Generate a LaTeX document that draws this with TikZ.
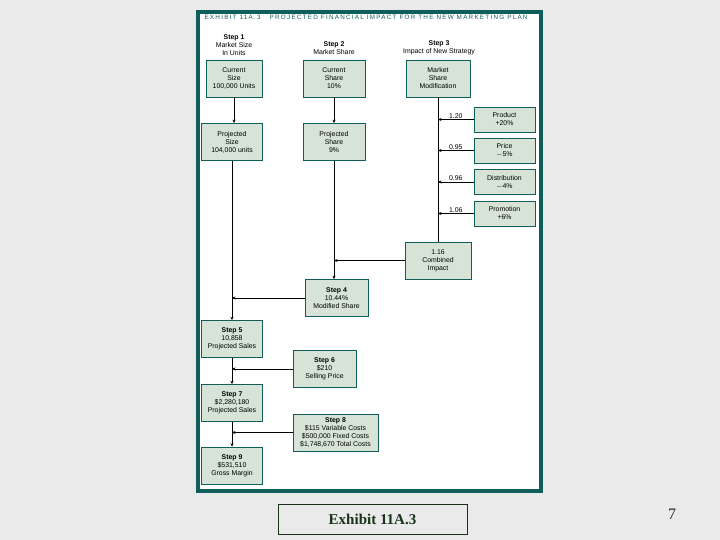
\documentclass[tikz,border=0pt]{standalone}
\usepackage{fontspec}
\setmainfont{Liberation Serif}
\setsansfont{Liberation Sans}
\newfontfamily\titlefont[LetterSpace=20]{Liberation Sans}
\usetikzlibrary{arrows.meta}

\definecolor{panelteal}{RGB}{16,94,90}
\definecolor{boxfill}{RGB}{214,227,214}
\definecolor{marble}{RGB}{234,234,234}
\definecolor{footgreen}{RGB}{24,52,24}

\tikzset{
  box/.style={draw=panelteal,line width=.7pt,fill=boxfill,align=center,inner sep=1pt,
    minimum height=37pt,font=\sffamily\fontsize{6.9}{8}\selectfont},
  factor/.style={box,minimum width=61pt,minimum height=25pt},
  head/.style={align=center,font=\sffamily\fontsize{6.9}{8}\selectfont},
  flow/.style={line width=.7pt,-{Stealth[length=3.5pt,width=3pt]}},
  link/.style={line width=.7pt},
  val/.style={font=\sffamily\fontsize{6.9}{7}\selectfont,above,inner sep=1pt}
}

\begin{document}
\begin{tikzpicture}[x=1pt,y=-1pt]
\useasboundingbox (0,0) rectangle (720,540);
\fill[marble] (0,0) rectangle (720,540);
\draw[panelteal,line width=4pt,fill=white] (198,12) rectangle (541,491);
\node[anchor=west,text=panelteal,font=\titlefont\fontsize{6.3}{7}\selectfont] (title) at (201,17.5)
  {EXHIBIT 11A.3 \ \ PROJECTED FINANCIAL IMPACT FOR THE NEW MARKETING PLAN};

% column headings
\node[head] (h1) at (234,45) {\textbf{Step 1}\\Market Size\\In Units};
\node[head] (h2) at (334,48) {\textbf{Step 2}\\Market Share};
\node[head] (h3) at (439,48) {\textbf{Step 3}\\Impact of New Strategy};

% boxes
\node[box,minimum width=56pt] (csize) at (234,78.5) {Current\\Size\\100,000 Units};
\node[box,minimum width=62pt] (cshare) at (334,78.5) {Current\\Share\\10\%};
\node[box,minimum width=64pt] (mod) at (438,78.5) {Market\\Share\\Modification};
\node[box,minimum width=61pt] (psize) at (232,142) {Projected\\Size\\104,000 units};
\node[box,minimum width=62pt] (pshare) at (334,142) {Projected\\Share\\9\%};

\node[factor] (product) at (504.5,119.5) {Product\\+20\%};
\node[factor] (price) at (504.5,150.5) {Price\\$-$5\%};
\node[factor] (dist) at (504.5,182) {Distribution\\$-$4\%};
\node[factor] (promo) at (504.5,213.5) {Promotion\\+6\%};

\node[box,minimum width=66pt] (comb) at (438,260.5) {1.16\\Combined\\Impact};
\node[box,minimum width=63pt] (step4) at (336.5,298) {\textbf{Step 4}\\10.44\%\\Modified Share};
\node[box,minimum width=61pt] (step5) at (232,339) {\textbf{Step 5}\\10,858\\Projected Sales};
\node[box,minimum width=63pt] (step6) at (324.5,369) {\textbf{Step 6}\\\$210\\Selling Price};
\node[box,minimum width=61pt] (step7) at (232,403) {\textbf{Step 7}\\\$2,280,180\\Projected Sales};
\node[box,minimum width=85pt] (step8) at (335.5,432.5) {\textbf{Step 8}\\\$115 Variable Costs\\\$500,000 Fixed Costs\\\$1,748,670 Total Costs};
\node[box,minimum width=61pt] (step9) at (232,465.5) {\textbf{Step 9}\\\$531,510\\Gross Margin};

% connectors
\draw[flow] (csize.south) -- (csize.south |- psize.north);
\draw[flow] (cshare) -- (pshare);
\draw[flow] (psize) -- (step5);
\draw[flow] (step5) -- (step7);
\draw[flow] (step7) -- (step9);
\draw[flow] (pshare.south) -- (pshare.south |- step4.north);
\draw[link] (mod) -- (comb);

\draw[flow] (product.west) -- node[val]{1.20} (product.west -| mod.south);
\draw[flow] (price.west) -- node[val]{0.95} (price.west -| mod.south);
\draw[flow] (dist.west) -- node[val]{0.96} (dist.west -| mod.south);
\draw[flow] (promo.west) -- node[val]{1.06} (promo.west -| mod.south);

\draw[flow] (comb.west) -- (comb.west -| pshare.south);
\draw[flow] (step4.west) -- (step4.west -| psize.south);
\draw[flow] (step6.west) -- (step6.west -| step5.south);
\draw[flow] (step8.west) -- (step8.west -| step7.south);

% footer
\node[draw=footgreen,line width=.8pt,minimum width=189pt,minimum height=30pt,text=footgreen,
  font=\fontsize{15}{16}\selectfont\bfseries] (caption) at (372.5,519) {Exhibit 11A.3};
\node[text=footgreen,font=\fontsize{16}{17}\selectfont] (page) at (672,514) {7};
\end{tikzpicture}
\end{document}
